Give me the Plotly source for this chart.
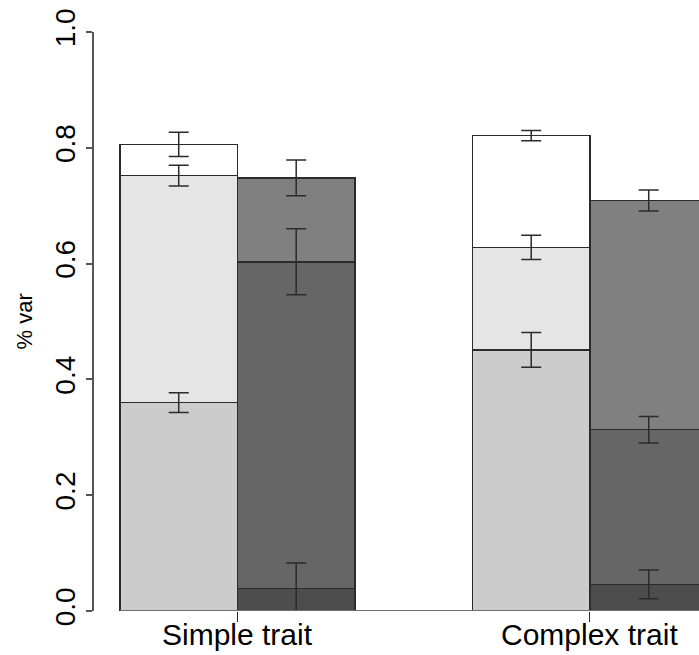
import numpy as np
import plotly.graph_objects as go

categories = ["Simple trait", "Complex trait"]
y_ticks = [0.0, 0.2, 0.4, 0.6, 0.8, 1.0]

# segment heights (stack order: bottom, middle, top)
left_bottom = [0.360, 0.451]
left_middle = [0.392, 0.177]
left_top = [0.054, 0.193]
right_bottom = [0.039, 0.046]
right_middle = [0.564, 0.267]
right_top = [0.145, 0.396]

# error half-widths at the top of each segment
left_bottom_err = [0.017, 0.030]
left_middle_err = [0.018, 0.021]
left_top_err = [0.021, 0.009]
right_bottom_err = [0.044, 0.025]
right_middle_err = [0.057, 0.023]
right_top_err = [0.031, 0.018]

left_colors = ["#cccccc", "#e5e5e5", "#ffffff"]
right_colors = ["#4d4d4d", "#666666", "#808080"]

g = np.arange(len(categories))
x_left = 3 * g + 0.5
x_right = 3 * g + 1.5
x_center = 3 * g + 1.0

font = "Arial, Liberation Sans, sans-serif"
fig = go.Figure()

for xs, segs, cols in [
    (x_left, [left_bottom, left_middle, left_top], left_colors),
    (x_right, [right_bottom, right_middle, right_top], right_colors),
]:
    for seg, col in zip(segs, cols):
        fig.add_trace(go.Bar(
            x=xs, y=seg, width=1.0,
            marker=dict(color=col, line=dict(color="#2b2b2b", width=1.3)),
            showlegend=False, hoverinfo="skip",
        ))

# error bars at cumulative tops
for xs, segs, errs in [
    (x_left, [left_bottom, left_middle, left_top], [left_bottom_err, left_middle_err, left_top_err]),
    (x_right, [right_bottom, right_middle, right_top], [right_bottom_err, right_middle_err, right_top_err]),
]:
    tops = np.cumsum(np.array(segs), axis=0)
    for lvl in range(tops.shape[0]):
        fig.add_trace(go.Scatter(
            x=xs, y=tops[lvl], mode="markers",
            marker=dict(size=1, color="rgba(0,0,0,0)"),
            error_y=dict(type="data", array=errs[lvl], visible=True,
                         color="#2b2b2b", thickness=1.5, width=10),
            showlegend=False, hoverinfo="skip",
        ))

# baseline along the bars
fig.add_shape(type="line", xref="x", yref="y", x0=0, x1=6, y0=0, y1=0,
              line=dict(color="#6e6e6e", width=2), layer="above")

annotations = [dict(
    text="% var", xref="paper", yref="paper", x=-0.1157, y=0.5,
    xanchor="center", yanchor="middle", textangle=-90, showarrow=False,
    font=dict(size=22, family=font, color="black"),
)]
for xc, lab in zip(x_center, categories):
    annotations.append(dict(
        text=lab, xref="x", yref="paper", x=xc, y=0, yshift=-23,
        xanchor="center", yanchor="middle", showarrow=False,
        font=dict(size=30, family=font, color="black"),
    ))

fig.update_layout(
    width=699, height=655,
    margin=dict(l=94, r=0, t=32, b=44, autoexpand=False),
    barmode="stack",
    plot_bgcolor="white", paper_bgcolor="white",
    font=dict(family=font, color="black"),
    xaxis=dict(
        range=[-0.221, 4.928], showgrid=False, zeroline=False, showline=False,
        tickmode="array", tickvals=x_center, showticklabels=False,
        ticks="outside", ticklen=10, tickwidth=1.3, tickcolor="#2b2b2b",
        automargin=False,
    ),
    yaxis=dict(
        range=[0, 1], showgrid=False, zeroline=False,
        showline=True, linecolor="#555555", linewidth=1.5,
        tickmode="array", tickvals=y_ticks, tickformat=".1f",
        ticks="outside", ticklen=6, tickwidth=1.5, tickcolor="#555555",
        tickangle=-90, tickfont=dict(size=28, family=font, color="black"),
        automargin=False,
    ),
    annotations=annotations,
)

fig.write_html("out.html")
